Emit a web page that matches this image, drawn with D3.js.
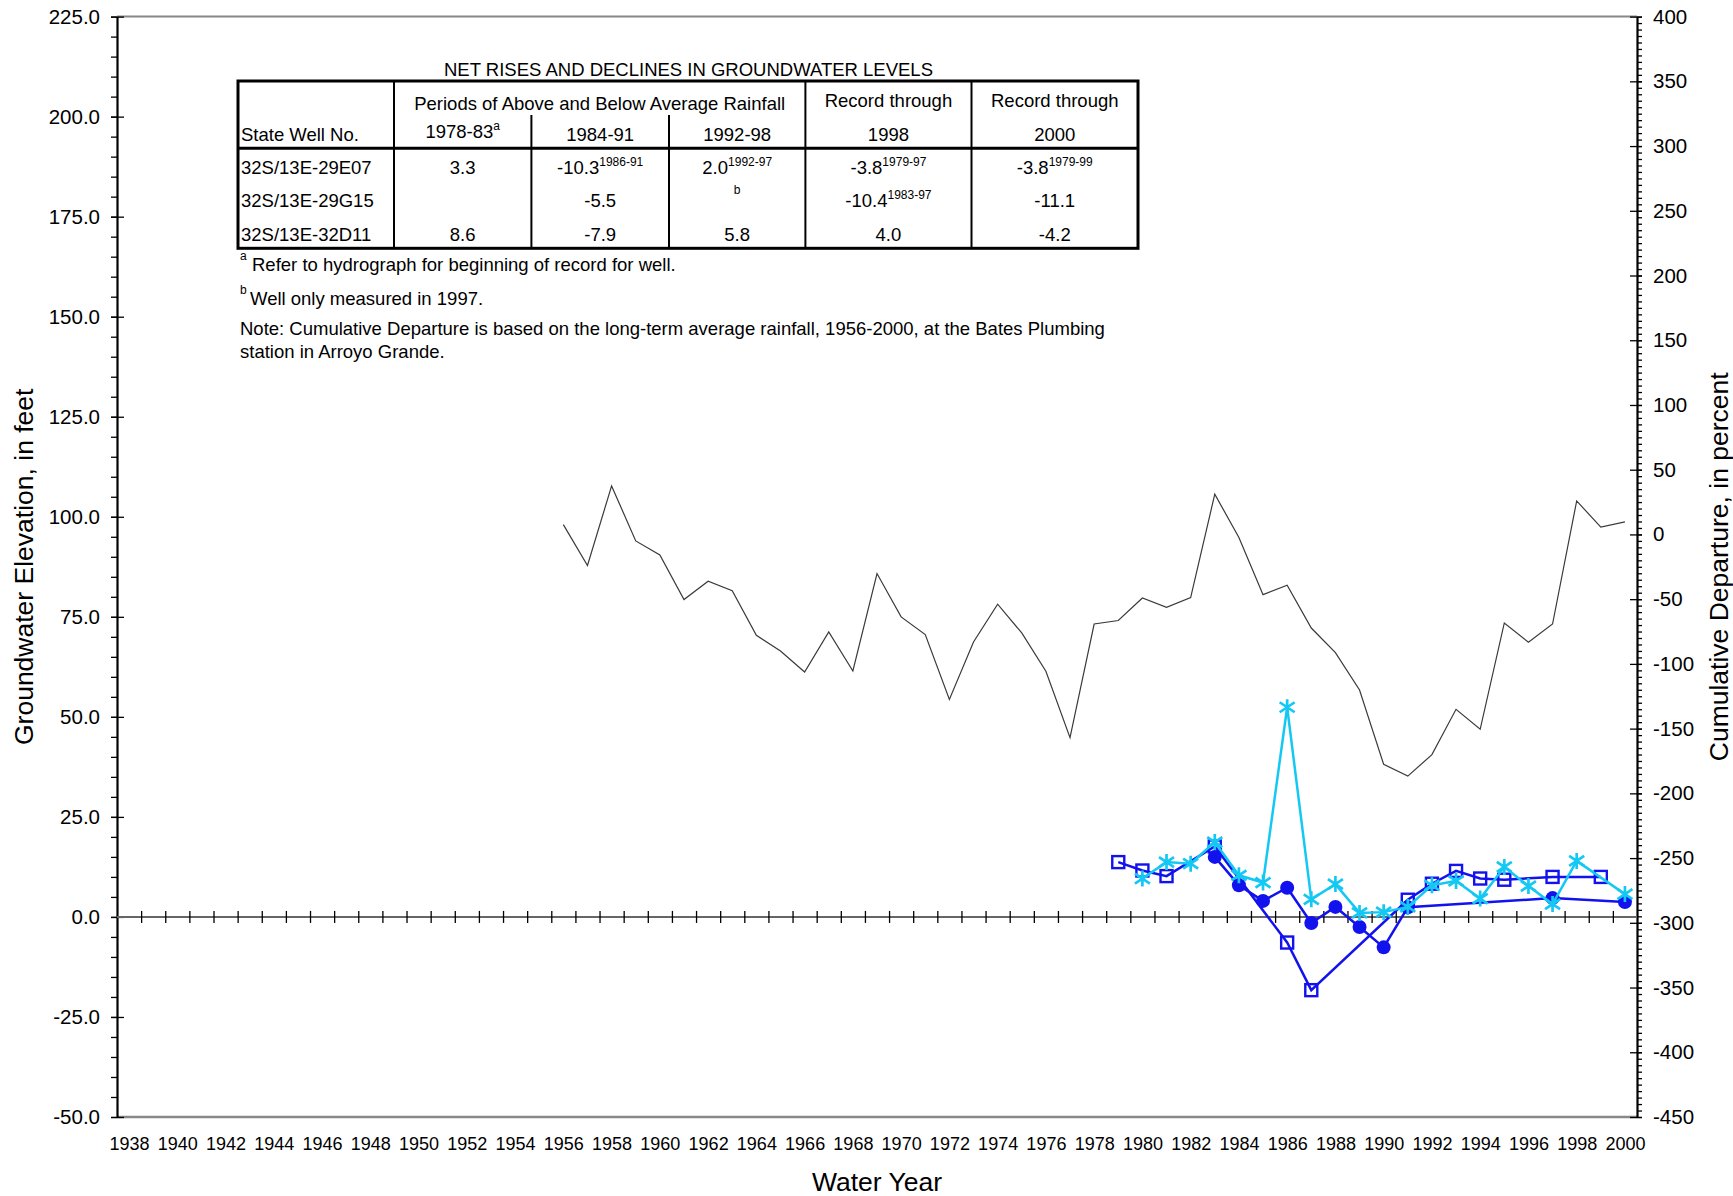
<!DOCTYPE html>
<html lang="en">
  <head>
    <meta charset="UTF-8" />
    <title>Hydrograph 32S/13E</title>
    <script src="https://d3js.org/d3.v7.min.js"></script>
    <style>
      body {
        margin: 0;
        background: #fff;
      }
      svg {
        display: block;
        font-family: "Liberation Sans", Arial, sans-serif;
      }
    </style>
  </head>
  <body>
    <svg id="chart" width="1733" height="1196"></svg>
    <script>
      // cumulative departure from average rainfall (right axis, percent)
      const cdYears = [
        1956, 1957, 1958, 1959, 1960, 1961, 1962, 1963, 1964, 1965, 1966, 1967,
        1968, 1969, 1970, 1971, 1972, 1973, 1974, 1975, 1976, 1977, 1978, 1979,
        1980, 1981, 1982, 1983, 1984, 1985, 1986, 1987, 1988, 1989, 1990, 1991,
        1992, 1993, 1994, 1995, 1996, 1997, 1998, 1999, 2000,
      ];
      const cdValues = [
        7.6, -24.0, 37.5, -5.0, -15.8, -50.3, -36.2, -43.4, -77.9, -90.0,
        -106.3, -75.3, -105.5, -30.2, -63.7, -77.4, -127.4, -83.1, -53.9, -76.1,
        -105.7, -157.0, -69.2, -66.5, -49.1, -56.3, -48.8, 31.1, -2.4, -46.5,
        -39.3, -72.3, -91.3, -120.2, -177.6, -186.7, -170.1, -135.1, -150.5,
        -68.4, -83.3, -69.2, 25.9, 5.6, 9.7,
      ];

      // groundwater elevations (left axis, feet)
      const squareYears = [
        1979, 1980, 1981, 1983, 1986, 1987, 1991, 1992, 1993, 1994, 1995, 1997,
        1999,
      ];
      const squareValues = [
        13.7, 11.6, 10.2, 17.6, -6.4, -18.3, 4.3, 8.3, 11.5, 9.6, 9.3, 10.0,
        10.0,
      ];
      const circleYears = [
        1983, 1984, 1985, 1986, 1987, 1988, 1989, 1990, 1991, 1997, 2000,
      ];
      const circleValues = [15.0, 7.9, 4.0, 7.3, -1.5, 2.5, -2.5, -7.6, 2.4, 4.7, 3.7];
      const starYears = [
        1980, 1981, 1982, 1983, 1984, 1985, 1986, 1987, 1988, 1989, 1990, 1991,
        1992, 1993, 1994, 1995, 1996, 1997, 1998, 2000,
      ];
      const starValues = [
        9.6, 13.7, 13.3, 18.7, 10.4, 8.6, 52.4, 4.4, 8.2, 1.0, 1.2, 2.5, 7.9,
        9.0, 4.6, 12.5, 7.7, 3.2, 14.0, 5.7,
      ];

      // ticks
      const yearLabels = d3.range(1938, 2001, 2);
      const leftTicks = [-50, -25, 0, 25, 50, 75, 100, 125, 150, 175, 200, 225];
      const rightTicks = [
        -450, -400, -350, -300, -250, -200, -150, -100, -50, 0, 50, 100, 150,
        200, 250, 300, 350, 400,
      ];

      // table
      const tableTitle = "NET RISES AND DECLINES IN GROUNDWATER LEVELS";
      const wellNames = ["32S/13E-29E07", "32S/13E-29G15", "32S/13E-32D11"];
      const tableRows = [
        [["3.3", ""], ["-10.3", "1986-91"], ["2.0", "1992-97"], ["-3.8", "1979-97"], ["-3.8", "1979-99"]],
        [["", ""], ["-5.5", ""], ["", "b"], ["-10.4", "1983-97"], ["-11.1", ""]],
        [["8.6", ""], ["-7.9", ""], ["5.8", ""], ["4.0", ""], ["-4.2", ""]],
      ];
      const colHeads = [["1978-83", "a"], ["1984-91", ""], ["1992-98", ""], ["1998", ""], ["2000", ""]];

      const blue = "#1212ee";
      const cyan = "#14c8f4";

      // plain hyphen for negatives, like the original
      const loc = d3.formatLocale({ decimal: ".", thousands: ",", grouping: [3], currency: ["$", ""], minus: "-" });

      const svg = d3.select("#chart");
      const plotL = 117,
        plotR = 1637,
        plotT = 16.6,
        plotB = 1117;

      const x = d3.scaleLinear().domain([1937.5, 2000.5]).range([plotL, plotR]);
      const yL = d3.scaleLinear().domain([-50, 225]).range([plotB, plotT]);
      const yR = d3.scaleLinear().domain([-450, 400]).range([plotB, plotT]);

      // frame top/bottom
      svg.append("line").attr("x1", plotL).attr("x2", plotR).attr("y1", plotT).attr("y2", plotT)
        .attr("stroke", "#888").attr("stroke-width", 2);
      svg.append("line").attr("x1", plotL).attr("x2", plotR).attr("y1", plotB).attr("y2", plotB)
        .attr("stroke", "#888").attr("stroke-width", 2.5);

      function styleAxis(g) {
        g.selectAll("line").attr("stroke", "#000").attr("stroke-width", 1.3);
        g.selectAll("text").attr("fill", "#000");
      }

      // left axis
      const gl = svg.append("g").attr("transform", `translate(${plotL},0)`);
      gl.append("g")
        .call(d3.axisLeft(yL).tickValues(d3.range(-50, 226, 5)).tickSize(6).tickFormat("").tickSizeOuter(0))
        .call((g) => g.select(".domain").remove());
      gl.append("g")
        .call(d3.axisRight(yL).tickValues(leftTicks).tickSize(7).tickFormat("").tickSizeOuter(0))
        .call((g) => g.select(".domain").remove());
      gl.append("g")
        .call(d3.axisLeft(yL).tickValues(leftTicks).tickSize(6).tickPadding(11).tickFormat(loc.format(".1f")).tickSizeOuter(0))
        .attr("font-size", 20.5)
        .attr("font-family", null)
        .call((g) => g.select(".domain").attr("stroke", "#000").attr("stroke-width", 2.2));
      styleAxis(gl);

      // right axis
      const gr = svg.append("g").attr("transform", `translate(${plotR},0)`);
      gr.append("g")
        .call(d3.axisRight(yR).tickValues(d3.range(-450, 401, 5)).tickSize(5).tickFormat("").tickSizeOuter(0))
        .call((g) => g.select(".domain").remove());
      gr.append("g")
        .call(d3.axisLeft(yR).tickValues(rightTicks).tickSize(7).tickFormat("").tickSizeOuter(0))
        .call((g) => g.select(".domain").remove());
      gr.append("g")
        .call(d3.axisRight(yR).tickValues(rightTicks).tickSize(5).tickPadding(11).tickFormat(loc.format("d")).tickSizeOuter(0))
        .attr("font-size", 20.5)
        .attr("font-family", null)
        .call((g) => g.select(".domain").attr("stroke", "#000").attr("stroke-width", 2.2));
      styleAxis(gr);

      // year labels along the bottom
      svg.append("g")
        .attr("transform", `translate(0,${plotB})`)
        .call(d3.axisBottom(x).tickValues(yearLabels).tickSize(0).tickPadding(20).tickFormat(d3.format("d")))
        .attr("font-size", 18)
        .attr("font-family", null)
        .call((g) => g.select(".domain").remove())
        .call(styleAxis);

      // zero line with year ticks
      svg.append("line")
        .attr("x1", plotL).attr("x2", plotR)
        .attr("y1", yL(0)).attr("y2", yL(0))
        .attr("stroke", "#666").attr("stroke-width", 2);
      svg.append("g")
        .attr("transform", `translate(0,${yL(0) - 6})`)
        .call(d3.axisBottom(x).tickValues(d3.range(1938.5, 2000, 1)).tickSize(12).tickFormat(""))
        .call((g) => g.select(".domain").remove())
        .call(styleAxis);

      // axis titles
      svg.append("text")
        .attr("transform", `translate(33,${(plotT + plotB) / 2}) rotate(-90)`)
        .attr("text-anchor", "middle")
        .attr("font-size", 26.5)
        .text("Groundwater Elevation, in feet");
      svg.append("text")
        .attr("transform", `translate(1728,${(plotT + plotB) / 2}) rotate(-90)`)
        .attr("text-anchor", "middle")
        .attr("font-size", 26.5)
        .text("Cumulative Departure, in percent");
      svg.append("text")
        .attr("x", 877)
        .attr("y", 1191)
        .attr("text-anchor", "middle")
        .attr("font-size", 26.5)
        .text("Water Year");

      // cumulative departure line
      const cd = cdYears.map((yr, i) => [yr, cdValues[i]]);
      svg.append("path")
        .datum(cd)
        .attr("fill", "none")
        .attr("stroke", "#3a3a3a")
        .attr("stroke-width", 1.2)
        .attr("d", d3.line().x((d) => x(d[0])).y((d) => yR(d[1])));

      const wellLine = d3.line().x((d) => x(d[0])).y((d) => yL(d[1]));

      // squares series
      const sq = squareYears.map((yr, i) => [yr, squareValues[i]]);
      svg.append("path").datum(sq)
        .attr("fill", "none").attr("stroke", blue).attr("stroke-width", 2.5)
        .attr("d", wellLine);
      svg.append("g").selectAll("rect").data(sq).join("rect")
        .attr("x", (d) => x(d[0]) - 6).attr("y", (d) => yL(d[1]) - 6)
        .attr("width", 12).attr("height", 12)
        .attr("fill", "none").attr("stroke", blue).attr("stroke-width", 2.4);

      // circles series
      const ci = circleYears.map((yr, i) => [yr, circleValues[i]]);
      svg.append("path").datum(ci)
        .attr("fill", "none").attr("stroke", blue).attr("stroke-width", 2.5)
        .attr("d", wellLine);
      svg.append("g").selectAll("circle").data(ci).join("circle")
        .attr("cx", (d) => x(d[0])).attr("cy", (d) => yL(d[1]))
        .attr("r", 7).attr("fill", blue);

      // asterisk series
      const st = starYears.map((yr, i) => [yr, starValues[i]]);
      svg.append("path").datum(st)
        .attr("fill", "none").attr("stroke", cyan).attr("stroke-width", 2.5)
        .attr("d", wellLine);
      const star = "M0,-8L0,8M-7.5,-5L7.5,5M-7.5,5L7.5,-5";
      svg.append("g").selectAll("path").data(st).join("path")
        .attr("transform", (d) => `translate(${x(d[0])},${yL(d[1])})`)
        .attr("d", star)
        .attr("fill", "none").attr("stroke", cyan).attr("stroke-width", 2.7);

      // ---- table of net rises and declines ----
      const colEdges = [238, 394, 531.4, 669, 805.4, 971.5, 1138];
      const tTop = 81,
        tHead = 148.3,
        tBottom = 248.3,
        tSub = 115;
      const tg = svg.append("g").attr("font-size", 18.5).attr("fill", "#000");

      tg.append("text").attr("x", 688.5).attr("y", 76).attr("text-anchor", "middle").text(tableTitle);

      tg.append("rect")
        .attr("x", colEdges[0]).attr("y", tTop)
        .attr("width", colEdges[6] - colEdges[0]).attr("height", tBottom - tTop)
        .attr("fill", "none").attr("stroke", "#000").attr("stroke-width", 3);
      tg.append("line").attr("x1", colEdges[0]).attr("x2", colEdges[6])
        .attr("y1", tHead).attr("y2", tHead).attr("stroke", "#000").attr("stroke-width", 3);
      [1, 4, 5].forEach((i) =>
        tg.append("line").attr("x1", colEdges[i]).attr("x2", colEdges[i])
          .attr("y1", tTop).attr("y2", tBottom).attr("stroke", "#000").attr("stroke-width", 2)
      );
      [2, 3].forEach((i) =>
        tg.append("line").attr("x1", colEdges[i]).attr("x2", colEdges[i])
          .attr("y1", tSub).attr("y2", tBottom).attr("stroke", "#000").attr("stroke-width", 2)
      );

      const colCenter = (c) => (colEdges[c + 1] + colEdges[c + 2]) / 2;

      function supText(xc, yb, main, sup, anchor) {
        const t = tg.append("text").attr("x", xc).attr("y", yb).attr("text-anchor", anchor || "middle");
        if (main) t.append("tspan").text(main);
        if (sup) t.append("tspan").attr("dy", main ? -8 : -12).attr("font-size", 12).text(sup);
        return t;
      }

      tg.append("text").attr("x", 241).attr("y", 141).text("State Well No.");
      tg.append("text").attr("x", (colEdges[1] + colEdges[4]) / 2).attr("y", 110)
        .attr("text-anchor", "middle").text("Periods of Above and Below Average Rainfall");
      tg.append("text").attr("x", colCenter(3)).attr("y", 107).attr("text-anchor", "middle").text("Record through");
      tg.append("text").attr("x", colCenter(4)).attr("y", 107).attr("text-anchor", "middle").text("Record through");
      colHeads.forEach(([m, s], c) => supText(colCenter(c), c === 0 ? 138 : 141, m, s));

      const rowBase = [174, 207, 241];
      wellNames.forEach((w, r) => {
        tg.append("text").attr("x", 241).attr("y", rowBase[r]).text(w);
        tableRows[r].forEach(([m, s], c) => {
          if (m || s) supText(colCenter(c), m ? rowBase[r] : rowBase[r] - 1, m, s);
        });
      });

      // footnotes
      const fn = tg.append("g");
      supText(240, 272, "", "a", "start");
      fn.append("text").attr("x", 252).attr("y", 271).text("Refer to hydrograph for beginning of record for well.");
      supText(240, 306, "", "b", "start");
      fn.append("text").attr("x", 250).attr("y", 305).text("Well only measured in 1997.");
      fn.append("text").attr("x", 240).attr("y", 334.5)
        .text("Note: Cumulative Departure is based on the long-term average rainfall, 1956-2000, at the Bates Plumbing");
      fn.append("text").attr("x", 240).attr("y", 358).text("station in Arroyo Grande.");
    </script>
  </body>
</html>
